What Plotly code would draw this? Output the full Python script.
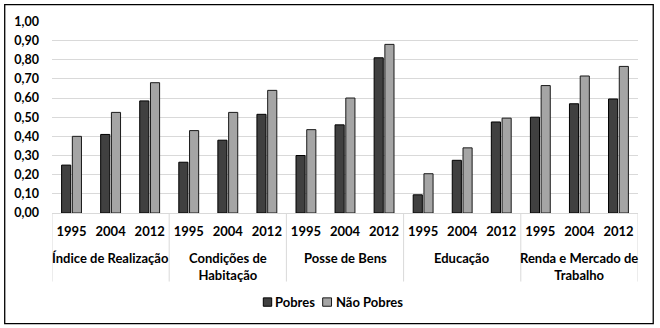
import plotly.graph_objects as go

# Dimensions and years
dimensoes = ["Índice de Realização", "Condições de<br>Habitação", "Posse de Bens",
             "Educação", "Renda e Mercado de<br>Trabalho"]
anos = ["1995", "2004", "2012"]

# Index values per dimension, ordered 1995, 2004, 2012
pobres = [0.25, 0.41, 0.585,
          0.265, 0.38, 0.515,
          0.30, 0.46, 0.81,
          0.095, 0.275, 0.475,
          0.50, 0.57, 0.595]
nao_pobres = [0.40, 0.525, 0.68,
              0.43, 0.525, 0.64,
              0.435, 0.60, 0.88,
              0.205, 0.34, 0.495,
              0.665, 0.715, 0.765]

series = [("Pobres", pobres, "#404040", "#000000"),
          ("Não Pobres", nao_pobres, "#a5a5a5", "#1a1a1a")]

x_ano = [a for _ in dimensoes for a in anos]
posicoes = list(range(len(x_ano)))
n = len(anos)

FONT = "Lato"
TXT = dict(family=FONT, size=13, color="#000000", weight="bold")

fig = go.Figure()
for nome, valores, cor, borda in series:
    fig.add_trace(go.Bar(
        x=posicoes, y=valores, name=nome,
        marker=dict(color=cor, line=dict(color=borda, width=1)),
    ))

fig.update_layout(
    width=660, height=328,
    margin=dict(l=52, r=22, t=21, b=115),
    paper_bgcolor="white", plot_bgcolor="white",
    separators=",.",
    barmode="group", bargap=0.45, bargroupgap=0.15,
    font=TXT,
    showlegend=False,
    xaxis=dict(
        range=[-0.5, len(posicoes) - 0.5],
        tickmode="array", tickvals=posicoes, ticktext=x_ano,
        showline=True, linecolor="#d9d9d9", linewidth=1,
        tickfont=TXT, ticks="", showgrid=False, zeroline=False,
        ticklabelstandoff=6,
    ),
    yaxis=dict(
        range=[0, 1.002], dtick=0.1, tickformat=".2f",
        showgrid=True, gridcolor="#d9d9d9", gridwidth=1,
        zeroline=False, showline=False, ticks="",
        tickfont=dict(family=FONT, size=12.5, color="#000000", weight="bold"),
        ticklabelstandoff=12,
    ),
)

# Group labels and dividers under the year labels
for i, nome in enumerate(dimensoes):
    fig.add_annotation(x=i * n + (n - 1) / 2, xref="x", y=-0.18, yref="paper",
                       text=nome, showarrow=False, yanchor="top", xanchor="center",
                       font=TXT)
for i in range(len(dimensoes) + 1):
    fig.add_shape(type="line", xref="x", yref="paper",
                  x0=i * n - 0.5, x1=i * n - 0.5, y0=0, y1=-0.357,
                  line=dict(color="#d9d9d9", width=1))

# Legend
leg_y0, leg_y1 = -0.4857, -0.442
leg_items = [(0.3606, 0.3749, 0.3771), (0.4619, 0.4770, 0.4812)]
for (nome, _, cor, borda), (sx0, sx1, tx) in zip(series, leg_items):
    fig.add_shape(type="rect", xref="paper", yref="paper",
                  x0=sx0, x1=sx1, y0=leg_y0, y1=leg_y1,
                  fillcolor=cor, line=dict(color=borda, width=1))
    fig.add_annotation(x=tx, xref="paper", y=(leg_y0 + leg_y1) / 2, yref="paper",
                       text=nome, showarrow=False, xanchor="left", yanchor="middle",
                       font=TXT)

# Frame around the whole chart
fig.add_shape(type="rect", xref="paper", yref="paper",
              x0=-0.0807, x1=1.026, y0=-0.5757, y1=1.0848,
              line=dict(color="#000000", width=1.3), fillcolor="rgba(0,0,0,0)")

fig.write_html("out.html")
